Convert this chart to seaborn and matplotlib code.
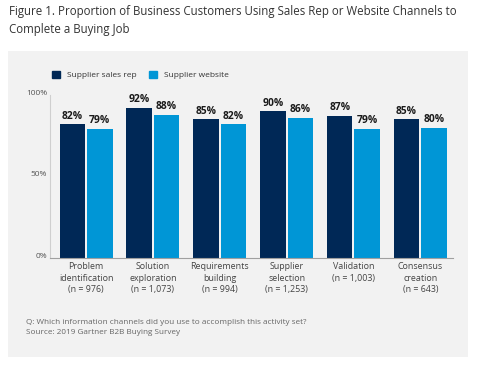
import matplotlib
matplotlib.use("Agg")
import matplotlib.pyplot as plt
import matplotlib.patches as mpatches
import matplotlib.transforms as mtransforms
import seaborn as sns
import pandas as pd

stages = ["Problem\nidentification\n(n = 976)",
          "Solution\nexploration\n(n = 1,073)",
          "Requirements\nbuilding\n(n = 994)",
          "Supplier\nselection\n(n = 1,253)",
          "Validation\n(n = 1,003)",
          "Consensus\ncreation\n(n = 643)"]
sales_rep = [82, 92, 85, 90, 87, 85]
website = [79, 88, 82, 86, 79, 80]
series = ["Supplier sales rep", "Supplier website"]
colors = ["#002856", "#0096D6"]
ytick_vals = [0, 50, 100]
ytick_labels = ["0%", "50%", "100%"]

df = pd.DataFrame({
    "stage": stages * 2,
    "value": sales_rep + website,
    "channel": [series[0]] * len(stages) + [series[1]] * len(stages),
})

sns.set_theme(style="white")
plt.rcParams["font.family"] = ["Open Sans", "DejaVu Sans"]

W, H = 493, 373
fig = plt.figure(figsize=(W / 100, H / 100), dpi=100)
fig.patch.set_facecolor("white")

# gray panel
fig.patches.append(mpatches.Rectangle((8 / W, 1 - 357 / H), 460 / W, 306 / H,
                                      transform=fig.transFigure, facecolor="#f2f2f2",
                                      edgecolor="none", zorder=-5))

ax = fig.add_axes([50 / W, 1 - 258 / H, 403 / W, 163 / H])
ax.set_zorder(2)
ax.set_facecolor("none")

sns.barplot(data=df, x="stage", y="value", hue="channel", palette=colors,
            width=0.82, gap=0.07, linewidth=0, saturation=1, ax=ax, legend=False)

for cont in ax.containers:
    ax.bar_label(cont, labels=[f"{int(v)}%" for v in cont.datavalues], padding=2,
                 fontsize=7.4, fontweight="bold", color="#1a1a1a", clip_on=False)

ax.set_xlim(-0.54, 5.49)
ax.set_ylim(0, 100)
ax.set_yticks(ytick_vals)
ax.set_yticklabels(ytick_labels)
ax.set_xlabel("")
ax.set_ylabel("")
ax.tick_params(axis="x", length=0, pad=3, labelsize=6.4, labelcolor="#444444")
ax.tick_params(axis="y", length=0, pad=2, labelsize=6.0, labelcolor="#555555")
for lbl in ax.get_xticklabels():
    lbl.set_linespacing(1.35)
shift = mtransforms.ScaledTranslation(0, 2.5 / 100, fig.dpi_scale_trans)
for lbl in ax.get_yticklabels():
    lbl.set_transform(lbl.get_transform() + shift)
for s in ["top", "right"]:
    ax.spines[s].set_visible(False)
ax.spines["left"].set_color("#cfcfcf")
ax.spines["left"].set_linewidth(0.8)
ax.spines["bottom"].set_color("#a0a0a0")
ax.spines["bottom"].set_linewidth(0.8)

handles = [mpatches.Patch(color=c, label=s) for c, s in zip(colors, series)]
ax.legend(handles=handles, loc="center left", bbox_to_anchor=(2 / 403, 1 + 20 / 163), ncol=2,
          frameon=False, fontsize=6.0, handlelength=0.9, handleheight=0.9,
          handletextpad=0.9, columnspacing=1.5, borderaxespad=0, borderpad=0,
          labelcolor="#333333")

fig.text(9 / W, 1 - 5 / H,
         "Figure 1. Proportion of Business Customers Using Sales Rep or Website Channels to\nComplete a Buying Job",
         ha="left", va="top", fontsize=8.3, color="#333333", linespacing=1.45)

fig.text(26 / W, 1 - 322 / H, "Q: Which information channels did you use to accomplish this activity set?",
         ha="left", va="center", fontsize=5.85, color="#666666")
fig.text(26 / W, 1 - 333 / H, "Source: 2019 Gartner B2B Buying Survey",
         ha="left", va="center", fontsize=5.85, color="#666666")

fig.savefig("out.png", dpi=100, facecolor="white")
